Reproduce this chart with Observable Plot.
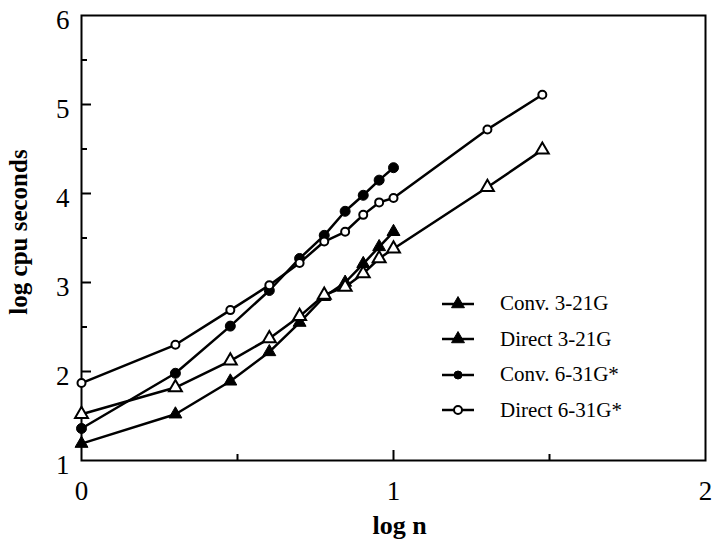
<!DOCTYPE html>
<html>
<head>
<meta charset="utf-8">
<script src="https://cdn.jsdelivr.net/npm/d3@7"></script>
<script src="https://cdn.jsdelivr.net/npm/@observablehq/plot@0.6"></script>
<style>
  body { margin: 0; background: white; }
  #wrap { position: relative; width: 712px; height: 540px; font-family: "Liberation Serif", serif; }
  #legend { position: absolute; left: 440px; top: 286px; }
  .row { display: flex; align-items: center; height: 35.5px; font-size: 21px; color: black; }
  .row svg { margin-right: 24px; }
</style>
</head>
<body>
<div id="wrap"><div id="legend"></div></div>
<script>
// log n values (n = 1..10, 20, 30)
const logN = [0, 0.301, 0.477, 0.602, 0.699, 0.778, 0.845, 0.903, 0.954, 1.0, 1.301, 1.477];

// log cpu seconds per series
const conv321   = [1.19, 1.52, 1.89, 2.22, 2.55, 2.84, 3.00, 3.21, 3.40, 3.57];
const direct321 = [1.52, 1.82, 2.12, 2.37, 2.62, 2.86, 2.95, 3.10, 3.27, 3.38, 4.07, 4.49];
const conv631   = [1.36, 1.98, 2.51, 2.91, 3.27, 3.53, 3.80, 3.98, 4.15, 4.29];
const direct631 = [1.87, 2.30, 2.69, 2.97, 3.22, 3.46, 3.57, 3.76, 3.90, 3.95, 4.72, 5.11];

const seriesNames = ["Conv. 3-21G", "Direct 3-21G", "Conv. 6-31G*", "Direct 6-31G*"];
const seriesValues = [conv321, direct321, conv631, direct631];
const seriesSymbol = ["triangle", "triangle", "circle", "circle"];
const seriesFilled = [true, false, true, false];
const legendFilled = [true, true, true, false];

const xTickLabels = [0, 1, 2];
const xMinorTicks = [0.5, 1.5];
const xMajorTicks = [1];
const yTickLabels = [1, 2, 3, 4, 5, 6];
const yMinorTicks = [1.5, 2.5, 3.5, 4.5, 5.5];
const yMajorTicks = [2, 3, 4, 5];

const series = seriesValues.map((vals, i) =>
  vals.map((v, j) => ({name: seriesNames[i], x: logN[j], y: v}))
);

const lineMarks = series.map(s => Plot.line(s, {x: "x", y: "y", stroke: "black", strokeWidth: 2.5}));
const dotMarks = series.map((s, i) => Plot.dot(s, {
  x: "x", y: "y",
  symbol: seriesSymbol[i],
  r: seriesSymbol[i] === "triangle" ? 4.8 : (seriesFilled[i] ? 5 : 4),
  fill: seriesFilled[i] ? "black" : "white",
  stroke: "black",
  strokeWidth: seriesFilled[i] ? 1 : 2
}));

const fmt = d3.format("d");

const chart = Plot.plot({
  width: 712,
  height: 540,
  marginLeft: 81,
  marginRight: 7,
  marginTop: 15,
  marginBottom: 80,
  style: {fontFamily: "Liberation Serif", background: "white", color: "black"},
  x: {domain: [0, 2]},
  y: {domain: [1, 6]},
  marks: [
    Plot.axisX(xTickLabels, {tickSize: 0, tickPadding: 20, fontSize: 27, tickFormat: fmt, label: null}),
    Plot.axisX(xMajorTicks, {tickSize: -10, tickFormat: () => "", label: null, strokeWidth: 2}),
    Plot.axisX(xMinorTicks, {tickSize: -6, tickFormat: () => "", label: null, strokeWidth: 2}),
    Plot.axisY(yTickLabels, {tickSize: 0, tickPadding: 12, fontSize: 27, dy: 5, tickFormat: fmt, label: null}),
    Plot.axisY(yMajorTicks, {tickSize: -10, tickFormat: () => "", label: null, strokeWidth: 2}),
    Plot.axisY(yMinorTicks, {tickSize: -6, tickFormat: () => "", label: null, strokeWidth: 2}),
    Plot.text(["log n"], {frameAnchor: "bottom", lineAnchor: "bottom", dy: 73, dx: 6, fontSize: 26, fontWeight: "bold"}),
    Plot.text(["log cpu seconds"], {frameAnchor: "left", textAnchor: "middle", dx: -63, dy: -6, rotate: -90, fontSize: 25, fontWeight: "bold"}),
    Plot.frame({stroke: "black", strokeWidth: 2}),
    ...lineMarks,
    ...dotMarks
  ]
});

document.getElementById("wrap").prepend(chart);

// legend
const legend = document.getElementById("legend");
seriesNames.forEach((name, i) => {
  const row = document.createElement("div");
  row.className = "row";
  const svg = d3.create("svg").attr("width", 36).attr("height", 20);
  svg.append("line").attr("x1", 2).attr("x2", 34).attr("y1", 10).attr("y2", 10)
    .attr("stroke", "black").attr("stroke-width", 2.5);
  const sym = d3.symbol(seriesSymbol[i] === "triangle" ? d3.symbolTriangle : d3.symbolCircle,
    seriesSymbol[i] === "triangle" ? Math.PI * 4.8 * 4.8 : Math.PI * 4 * 4)();
  svg.append("path").attr("d", sym).attr("transform", "translate(18,10)")
    .attr("fill", legendFilled[i] ? "black" : "white").attr("stroke", "black")
    .attr("stroke-width", legendFilled[i] ? 1 : 2);
  row.append(svg.node());
  const t = document.createElement("span");
  t.textContent = name;
  row.append(t);
  legend.append(row);
});
</script>
</body>
</html>
